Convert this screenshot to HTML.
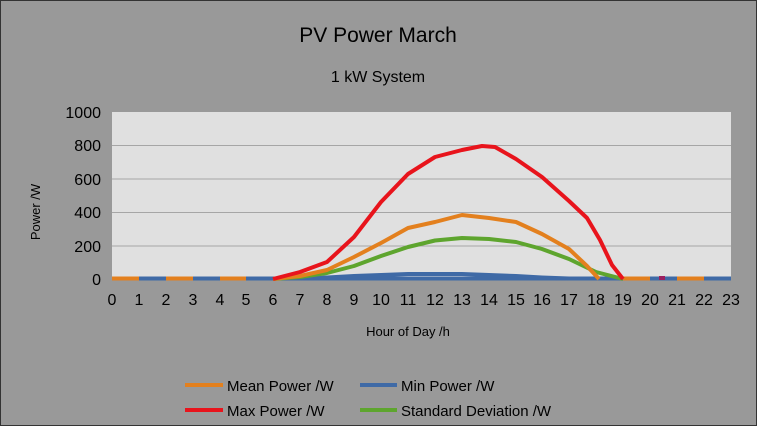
<!DOCTYPE html>
<html><head><meta charset="utf-8"><style>
html,body{margin:0;padding:0;background:#999;}
svg{display:block;font-family:"Liberation Sans",Arial,sans-serif;}
</style></head><body>
<svg width="757" height="426" viewBox="0 0 757 426" xmlns="http://www.w3.org/2000/svg">
<rect x="0" y="0" width="757" height="426" fill="#999999"/>
<rect x="0.5" y="0.5" width="756" height="425" fill="none" stroke="#333" stroke-width="1"/>
<text x="378" y="42" font-size="21" text-anchor="middle" fill="#000">PV Power March</text>
<text x="378" y="82" font-size="16" text-anchor="middle" fill="#000">1 kW System</text>
<rect x="112" y="112" width="619" height="168" fill="#e0e0e0"/>
<g stroke="#a6a6a6" stroke-width="1">
<line x1="112" y1="145.5" x2="731" y2="145.5"/>
<line x1="112" y1="179" x2="731" y2="179"/>
<line x1="112" y1="212.5" x2="731" y2="212.5"/>
<line x1="112" y1="246" x2="731" y2="246"/>
</g>
<g font-size="16" fill="#000" text-anchor="end">
<text x="101" y="118">1000</text>
<text x="101" y="151">800</text>
<text x="101" y="185">600</text>
<text x="101" y="218">400</text>
<text x="101" y="252">200</text>
<text x="101" y="285">0</text>
</g>
<g font-size="16" fill="#000" text-anchor="middle">
<text x="112" y="305">0</text><text x="139" y="305">1</text><text x="166" y="305">2</text><text x="193" y="305">3</text><text x="220" y="305">4</text><text x="246" y="305">5</text><text x="273" y="305">6</text><text x="300" y="305">7</text><text x="327" y="305">8</text><text x="354" y="305">9</text><text x="381" y="305">10</text><text x="408" y="305">11</text><text x="435" y="305">12</text><text x="462" y="305">13</text><text x="489" y="305">14</text><text x="516" y="305">15</text><text x="542" y="305">16</text><text x="569" y="305">17</text><text x="596" y="305">18</text><text x="623" y="305">19</text><text x="650" y="305">20</text><text x="677" y="305">21</text><text x="704" y="305">22</text><text x="731" y="305">23</text>
</g>
<text x="408" y="336" font-size="13" text-anchor="middle">Hour of Day /h</text>
<text transform="translate(40,212) rotate(-90)" font-size="13" text-anchor="middle">Power /W</text>
<g fill="none" stroke-width="4" stroke-linejoin="round" stroke-linecap="butt">
<!-- min blue baseline -->
<path stroke="#3f6aa6" d="M112 278.5 L731 278.5"/>
<path stroke="#3f6aa6" d="M300 278.5 L327 277.5 L354 276 L381 275 L408 274 L435 274 L462 274 L489 275 L516 276 L542 277.5 L569 278.5"/>
<!-- std green -->
<path stroke="#5ea52e" d="M273 279 L300 277 L327 273 L354 266 L381 256 L408 247 L435 240.5 L462 238 L489 239 L516 242 L542 249 L569 259 L596 272 L623 279"/>
<!-- mean orange -->
<path stroke="#e3801e" d="M273 279 L300 276 L327 270 L354 257 L381 243 L408 228 L435 222 L462 215 L489 218 L516 222 L542 234 L569 249 L587 266 L599 279"/>
<g stroke="#e3801e">
<path d="M112 278.5 L139 278.5"/><path d="M166 278.5 L193 278.5"/><path d="M220 278.5 L246 278.5"/><path d="M623 278.5 L650 278.5"/><path d="M677 278.5 L704 278.5"/>
</g>
<path stroke="#9b2060" d="M659 278 L665 278"/>
<!-- max red -->
<path stroke="#e8141c" d="M273 279 L300 272 L327 262 L354 237 L381 202 L408 174 L435 157 L462 150 L482 146 L495 147 L516 159 L542 177 L569 201 L587 218 L600 240 L612 265 L623 279"/>
</g>
<g font-size="15" fill="#000">
<line x1="185" y1="385" x2="223" y2="385" stroke="#e3801e" stroke-width="4"/>
<text x="227" y="391">Mean Power /W</text>
<line x1="360" y1="385" x2="397" y2="385" stroke="#3f6aa6" stroke-width="4"/>
<text x="401" y="391">Min Power /W</text>
<line x1="185" y1="410" x2="223" y2="410" stroke="#e8141c" stroke-width="4"/>
<text x="227" y="416">Max Power /W</text>
<line x1="360" y1="410" x2="397" y2="410" stroke="#5ea52e" stroke-width="4"/>
<text x="401" y="416">Standard Deviation /W</text>
</g>
</svg>
</body></html>
